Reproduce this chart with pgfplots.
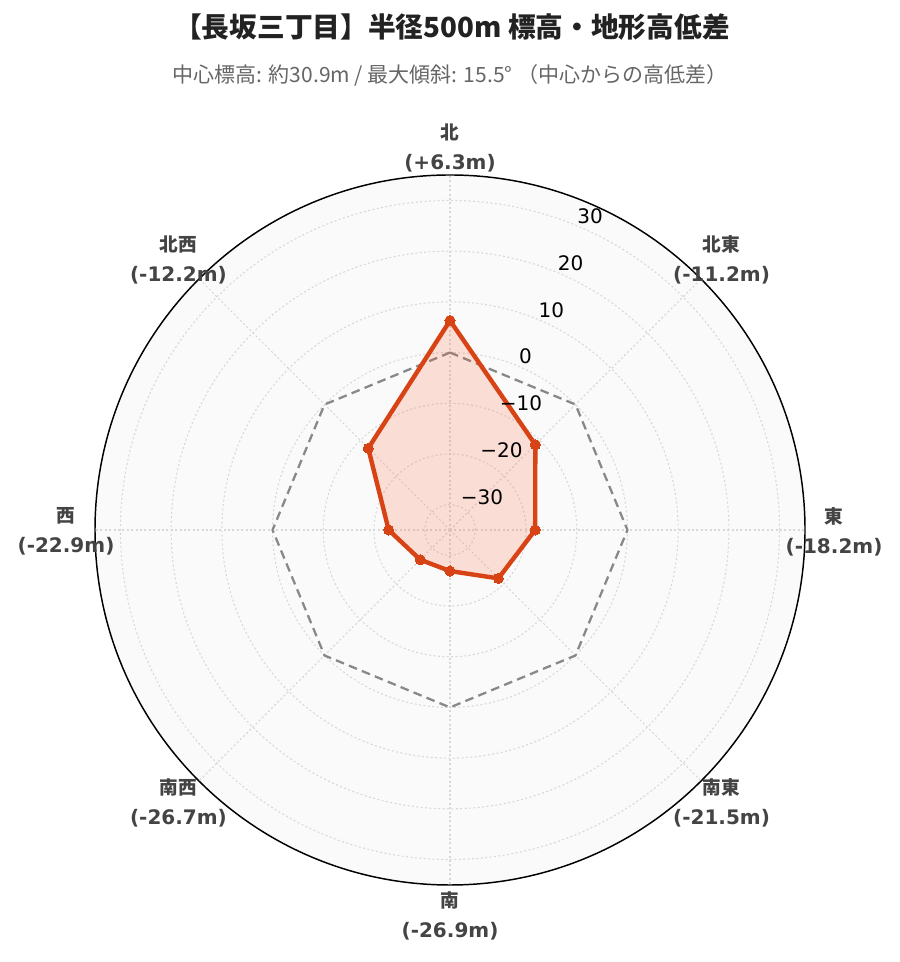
\documentclass[border=0pt]{standalone}
\usepackage{pgfplots}
\usepackage{pgfplotstable}
\pgfplotsset{compat=1.18}
\usepackage{fontspec}
\setmainfont{DejaVu Sans}
\newfontfamily\cjk{Noto Sans CJK JP}
\definecolor{dataC}{HTML}{D84315}
\definecolor{fillC}{HTML}{FF5722}
\definecolor{labC}{HTML}{444444}
\definecolor{subC}{HTML}{666666}
\definecolor{titC}{HTML}{222222}
\definecolor{gridC}{HTML}{D8D8D8}
\definecolor{bgC}{HTML}{FAFAFA}
\definecolor{refC}{HTML}{888888}

% direction angle (deg, clockwise from north) and elevation difference (m)
\pgfplotstableread{
a v
0 6.3
45 -11.2
90 -18.2
135 -21.5
180 -26.9
225 -26.7
270 -22.9
315 -12.2
360 6.3
}\datatab
\pgfplotstableread{
a v
0 0
45 0
90 0
135 0
180 0
225 0
270 0
315 0
360 0
}\reftab

\begin{document}
\begin{tikzpicture}
\begin{axis}[
  hide axis, x=0.75pt, y=0.75pt,
  xmin=-450, xmax=449, ymin=-432, ymax=530,
  enlargelimits=false, clip=false,
]
\fill[white] (axis cs:-450,-432) rectangle (axis cs:449,530);
\fill[bgC] (axis cs:0,0) circle[radius=266.25pt];
% grid circles
\pgfplotsinvokeforeach{-30,-20,-10,0,10,20,30}{
  \draw[gridC, line width=0.8pt, dash pattern=on 1.5pt off 1.8pt] (axis cs:0,0) circle[radius={(#1+35)*5.07*0.75pt}];
}
% radial grid lines
\pgfplotsinvokeforeach{0,45,90,135,180,225,270,315}{
  \draw[gridC, line width=0.8pt, dash pattern=on 1.5pt off 1.8pt] (axis cs:0,0) -- (axis cs:{355*sin(#1)},{355*cos(#1)});
}
\draw[black, line width=1.1pt] (axis cs:0,0) circle[radius=266.25pt];

% reference (0 m) line
\addplot[refC, line width=1.7pt, dash pattern=on 6.5pt off 4pt, mark=none]
  table[x expr={(\thisrow{v}+35)*5.07*sin(\thisrow{a})}, y expr={(\thisrow{v}+35)*5.07*cos(\thisrow{a})}] {\reftab};
% fill
\addplot[draw=none, fill=fillC, fill opacity=0.17, mark=none]
  table[x expr={(\thisrow{v}+35)*5.07*sin(\thisrow{a})}, y expr={(\thisrow{v}+35)*5.07*cos(\thisrow{a})}] {\datatab} -- cycle;
% line + markers
\addplot[dataC, line width=3.3pt, line join=round, mark=*, mark size=3.8pt, mark options={fill=dataC, draw=dataC, line width=0pt}]
  table[x expr={(\thisrow{v}+35)*5.07*sin(\thisrow{a})}, y expr={(\thisrow{v}+35)*5.07*cos(\thisrow{a})}] {\datatab};

% radial tick labels
\pgfplotsinvokeforeach{-30,-20,-10}{
  \node[anchor=west, inner sep=0pt, xshift=0.75pt, yshift=7.1pt, font=\fontsize{15}{18}\selectfont, text=black]
    at (axis cs:{(#1+35)*5.07*0.38268},{(#1+35)*5.07*0.92388}) {\char"2212\pgfmathparse{int(-#1)}\pgfmathresult};
}
\pgfplotsinvokeforeach{0,10,20,30}{
  \node[anchor=west, inner sep=0pt, xshift=0.75pt, yshift=7.1pt, font=\fontsize{15}{18}\selectfont, text=black]
    at (axis cs:{(#1+35)*5.07*0.38268},{(#1+35)*5.07*0.92388}) {#1};
}

% direction labels
\newcommand{\dirlab}[3]{%
  \node[align=center, inner sep=0pt, text=labC, font=\fontsize{15}{22.5}\selectfont\bfseries]
    at (axis cs:{384*sin(#1)},{384*cos(#1)-1.5}) {{\cjk\bfseries\fontsize{14}{22.5}\selectfont #2}\\#3};}
\dirlab{0}{北}{(+6.3m)}
\dirlab{45}{北東}{(-11.2m)}
\dirlab{90}{東}{(-18.2m)}
\dirlab{135}{南東}{(-21.5m)}
\dirlab{180}{南}{(-26.9m)}
\dirlab{225}{南西}{(-26.7m)}
\dirlab{270}{西}{(-22.9m)}
\dirlab{315}{北西}{(-12.2m)}

% titles
\node[text=titC, inner sep=0pt, font=\cjk\bfseries\fontsize{20.8}{24}\selectfont] at (axis cs:2,503) {【長坂三丁目】半径500m 標高・地形高低差};
\node[text=subC, inner sep=0pt, font=\cjk\fontsize{15.75}{18}\selectfont] at (axis cs:0,455) {中心標高: 約30.9m / 最大傾斜: 15.5° （中心からの高低差）};
\end{axis}
\end{tikzpicture}
\end{document}
